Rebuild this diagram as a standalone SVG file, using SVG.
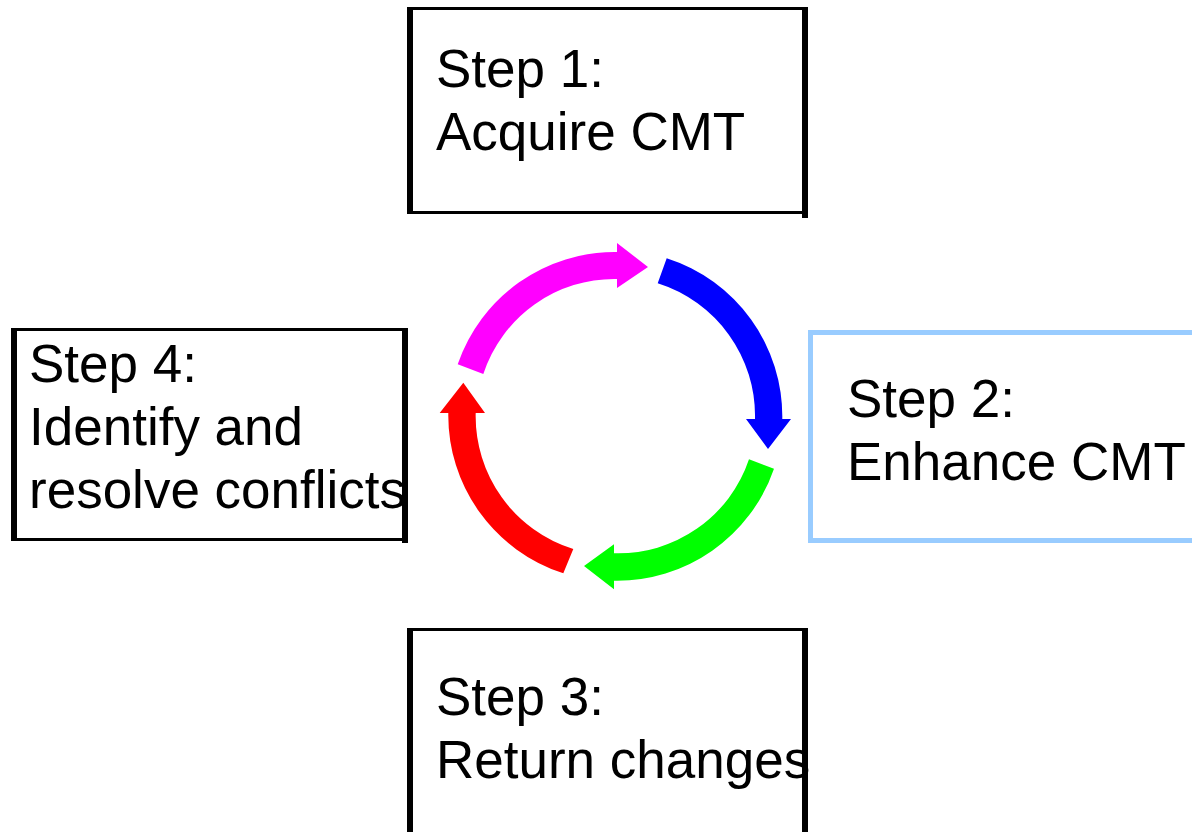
<svg xmlns="http://www.w3.org/2000/svg" width="1192" height="832" viewBox="0 0 1192 832">
<style>
.frame{fill:none;stroke:#000;stroke-width:3}
.bar{fill:#000}
.blue{fill:none;stroke:#99CCFF;stroke-width:5}
.lbl{font-family:"Liberation Sans",Arial,sans-serif;font-size:53px;fill:#000}
</style>
<rect width="1192" height="832" fill="#fff"/>
<g id="step1">
<text class="lbl" x="436" y="87">Step 1:</text>
<text class="lbl" x="436" y="150">Acquire CMT</text>
<rect class="frame" x="409" y="8.5" width="396" height="204"/>
<rect class="bar" x="407" y="7" width="6" height="207"/>
<rect class="bar" x="802" y="7" width="6" height="211"/>
</g>
<g id="step2">
<rect class="blue" x="810.5" y="332.5" width="400" height="208"/>
<text class="lbl" x="847" y="417">Step 2:</text>
<text class="lbl" x="847" y="480">Enhance CMT</text>
</g>
<g id="step3">
<text class="lbl" x="436" y="715">Step 3:</text>
<text class="lbl" x="436" y="778">Return changes</text>
<rect class="frame" x="409" y="629.5" width="396" height="240"/>
<rect class="bar" x="407" y="628" width="6" height="210"/>
<rect class="bar" x="802" y="628" width="6" height="210"/>
</g>
<g id="step4">
<text class="lbl" x="29" y="382">Step 4:</text>
<text class="lbl" x="29" y="445">Identify and</text>
<text class="lbl" x="29" y="508">resolve conflicts</text>
<rect class="frame" x="13" y="329.5" width="392" height="210"/>
<rect class="bar" x="11" y="328" width="6" height="213"/>
<rect class="bar" x="402" y="328" width="6" height="215"/>
</g>
<g id="connectors">
<path id="arrow-magenta" fill="#FF00FF" d="M457.7,364.3 A166,166 0 0 1 617,252 L617,243 L648,267 L617,288 L617,279 A138,138 0 0 0 483.3,374 Z"/>
<path id="arrow-blue" fill="#0000FF" d="M666.7,258.3 A166,166 0 0 1 782.3,419 L791,419 L768,449 L746,419 L755,419 A139,139 0 0 0 657.7,283.3 Z"/>
<path id="arrow-green" fill="#00FF00" d="M774,468.7 A166,166 0 0 1 614,580.7 L614,589.3 L584,566 L614,544.3 L614,553.3 A138,138 0 0 0 749,459.3 Z"/>
<path id="arrow-red" fill="#FF0000" d="M563.3,573.3 A166,166 0 0 1 448.3,413 L439.7,413 L463.3,382.7 L485,413 L475.7,413 A139,139 0 0 0 573.3,549 Z"/>
</g>
</svg>
